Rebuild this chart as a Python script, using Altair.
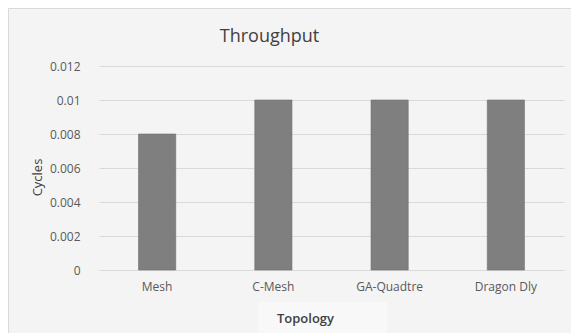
import altair as alt
import pandas as pd

# Throughput per topology
topologies = ["Mesh", "C-Mesh", "GA-Quadtre", "Dragon Dly"]
cycles = [0.008, 0.01, 0.01, 0.01]
y_ticks = [0, 0.002, 0.004, 0.006, 0.008, 0.01, 0.012]

df = pd.DataFrame({"Topology": topologies, "Cycles": cycles})

W, H = 465, 204
FONT = "Open Sans"
one = pd.DataFrame({"k": [0]})

# white margin round the grey panel, and the panel's thin frame
margin_left = alt.Chart(one).mark_rect(fill="white", clip=False).encode(
    x=alt.value(-99), x2=alt.value(-91), y=alt.value(-66), y2=alt.value(H + 63))
margin_top = alt.Chart(one).mark_rect(fill="white", clip=False).encode(
    x=alt.value(-99), x2=alt.value(W + 7), y=alt.value(-66), y2=alt.value(-58))
frame_left = alt.Chart(one).mark_rule(color="#d9d9d9", clip=False).encode(
    x=alt.value(-90.5), y=alt.value(-57.5), y2=alt.value(H + 63))
frame_top = alt.Chart(one).mark_rule(color="#d9d9d9", clip=False).encode(
    x=alt.value(-90.5), x2=alt.value(W + 7), y=alt.value(-57.5))
# light box behind the x-axis title
title_box = alt.Chart(one).mark_rect(fill="#f8f8f8", clip=False).encode(
    x=alt.value(159), x2=alt.value(288), y=alt.value(H + 32), y2=alt.value(H + 63))

bars = alt.Chart(df).mark_bar(color="#7f7f7f", stroke="#6f6f6f", strokeWidth=0.6).encode(
    x=alt.X("Topology:N", sort=topologies,
            scale=alt.Scale(paddingInner=0.68, paddingOuter=0.34),
            axis=alt.Axis(title="Topology", labelAngle=0, ticks=False, domain=False,
                          labelPadding=11, labelFontSize=12, labelColor="#595959",
                          labelFont=FONT, titleFont=FONT, titleFontSize=13,
                          titleFontWeight=600, titleColor="#404040",
                          titleX=206, titleY=48, titleBaseline="middle", zindex=1)),
    y=alt.Y("Cycles:Q", scale=alt.Scale(domain=[0, 0.012], nice=False),
            axis=alt.Axis(title="Cycles", values=y_ticks, format="~g", ticks=False,
                          domain=False, labelPadding=19, labelFontSize=12,
                          labelColor="#595959", labelFont=FONT, gridColor="#d9d9d9",
                          titleFont=FONT, titleFontSize=13, titleFontWeight="normal",
                          titleColor="#404040", titleX=-62, titleY=111,
                          titleBaseline="middle", titleAngle=-90)),
)

chart = alt.layer(title_box, bars, margin_left, margin_top, frame_left, frame_top).properties(
    width=W, height=H,
    title=alt.TitleParams("Throughput", font=FONT, fontSize=18, fontWeight="normal",
                          color="#404040", anchor="middle", dx=-62, dy=46, offset=0),
    autosize=alt.AutoSizeParams(type="none"),
    padding={"left": 99, "top": 66, "right": 7, "bottom": 63},
    background="#f4f4f4",
).configure_view(stroke=None)

chart.save("out.html", embed_options={"renderer": "svg", "actions": False})
